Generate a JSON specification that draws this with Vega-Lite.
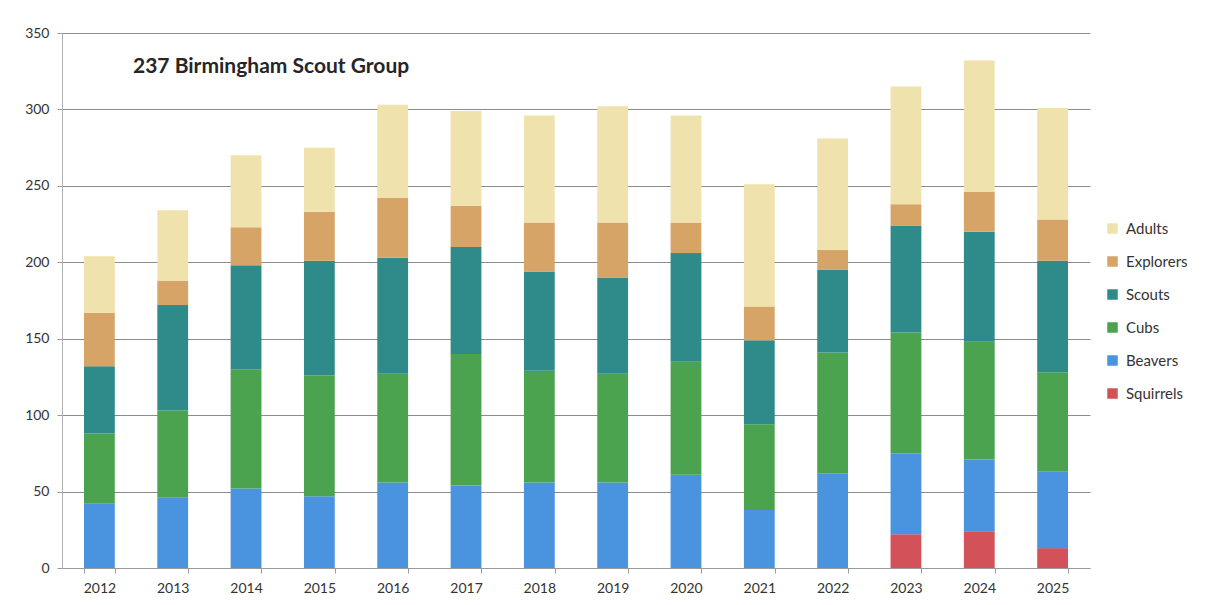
{
  "$schema": "https://vega.github.io/schema/vega-lite/v6.json",
  "width": 1028,
  "height": 535,
  "autosize": "none",
  "padding": {"left": 62, "top": 33, "right": 125, "bottom": 37},
  "background": "white",
  "title": {
    "text": "237 Birmingham Scout Group",
    "anchor": "start",
    "frame": "group",
    "orient": "top",
    "offset": -51,
    "dx": 71,
    "font": "Lato",
    "fontSize": 21,
    "fontWeight": "bold",
    "color": "#262626"
  },
  "data": {
    "values": [
      {"year": "2012", "group": "Beavers", "count": 42},
      {"year": "2012", "group": "Cubs", "count": 46},
      {"year": "2012", "group": "Scouts", "count": 44},
      {"year": "2012", "group": "Explorers", "count": 35},
      {"year": "2012", "group": "Adults", "count": 37},
      {"year": "2013", "group": "Beavers", "count": 46},
      {"year": "2013", "group": "Cubs", "count": 57},
      {"year": "2013", "group": "Scouts", "count": 69},
      {"year": "2013", "group": "Explorers", "count": 16},
      {"year": "2013", "group": "Adults", "count": 46},
      {"year": "2014", "group": "Beavers", "count": 52},
      {"year": "2014", "group": "Cubs", "count": 78},
      {"year": "2014", "group": "Scouts", "count": 68},
      {"year": "2014", "group": "Explorers", "count": 25},
      {"year": "2014", "group": "Adults", "count": 47},
      {"year": "2015", "group": "Beavers", "count": 47},
      {"year": "2015", "group": "Cubs", "count": 79},
      {"year": "2015", "group": "Scouts", "count": 75},
      {"year": "2015", "group": "Explorers", "count": 32},
      {"year": "2015", "group": "Adults", "count": 42},
      {"year": "2016", "group": "Beavers", "count": 56},
      {"year": "2016", "group": "Cubs", "count": 71},
      {"year": "2016", "group": "Scouts", "count": 76},
      {"year": "2016", "group": "Explorers", "count": 39},
      {"year": "2016", "group": "Adults", "count": 61},
      {"year": "2017", "group": "Beavers", "count": 54},
      {"year": "2017", "group": "Cubs", "count": 86},
      {"year": "2017", "group": "Scouts", "count": 70},
      {"year": "2017", "group": "Explorers", "count": 27},
      {"year": "2017", "group": "Adults", "count": 62},
      {"year": "2018", "group": "Beavers", "count": 56},
      {"year": "2018", "group": "Cubs", "count": 73},
      {"year": "2018", "group": "Scouts", "count": 65},
      {"year": "2018", "group": "Explorers", "count": 32},
      {"year": "2018", "group": "Adults", "count": 70},
      {"year": "2019", "group": "Beavers", "count": 56},
      {"year": "2019", "group": "Cubs", "count": 71},
      {"year": "2019", "group": "Scouts", "count": 63},
      {"year": "2019", "group": "Explorers", "count": 36},
      {"year": "2019", "group": "Adults", "count": 76},
      {"year": "2020", "group": "Beavers", "count": 61},
      {"year": "2020", "group": "Cubs", "count": 74},
      {"year": "2020", "group": "Scouts", "count": 71},
      {"year": "2020", "group": "Explorers", "count": 20},
      {"year": "2020", "group": "Adults", "count": 70},
      {"year": "2021", "group": "Beavers", "count": 38},
      {"year": "2021", "group": "Cubs", "count": 56},
      {"year": "2021", "group": "Scouts", "count": 55},
      {"year": "2021", "group": "Explorers", "count": 22},
      {"year": "2021", "group": "Adults", "count": 80},
      {"year": "2022", "group": "Beavers", "count": 62},
      {"year": "2022", "group": "Cubs", "count": 79},
      {"year": "2022", "group": "Scouts", "count": 54},
      {"year": "2022", "group": "Explorers", "count": 13},
      {"year": "2022", "group": "Adults", "count": 73},
      {"year": "2023", "group": "Squirrels", "count": 22},
      {"year": "2023", "group": "Beavers", "count": 53},
      {"year": "2023", "group": "Cubs", "count": 79},
      {"year": "2023", "group": "Scouts", "count": 70},
      {"year": "2023", "group": "Explorers", "count": 14},
      {"year": "2023", "group": "Adults", "count": 77},
      {"year": "2024", "group": "Squirrels", "count": 24},
      {"year": "2024", "group": "Beavers", "count": 47},
      {"year": "2024", "group": "Cubs", "count": 77},
      {"year": "2024", "group": "Scouts", "count": 72},
      {"year": "2024", "group": "Explorers", "count": 26},
      {"year": "2024", "group": "Adults", "count": 86},
      {"year": "2025", "group": "Squirrels", "count": 13},
      {"year": "2025", "group": "Beavers", "count": 50},
      {"year": "2025", "group": "Cubs", "count": 65},
      {"year": "2025", "group": "Scouts", "count": 73},
      {"year": "2025", "group": "Explorers", "count": 27},
      {"year": "2025", "group": "Adults", "count": 73}
    ]
  },
  "transform": [
    {"calculate": "indexof(['Squirrels','Beavers','Cubs','Scouts','Explorers','Adults'], datum.group)", "as": "stackOrder"}
  ],
  "mark": {"type": "bar"},
  "encoding": {
    "x": {
      "field": "year",
      "type": "nominal",
      "title": null,
      "scale": {"paddingInner": 0.58, "paddingOuter": 0.3},
      "axis": {
        "labelAngle": 0,
        "labelFont": "Lato",
        "labelFontSize": 14,
        "labelColor": "#333333",
        "labelPadding": 8,
        "tickBand": "extent",
        "tickColor": "#9a9a9a",
        "tickSize": 5,
        "domainColor": "#9a9a9a",
        "grid": false
      }
    },
    "y": {
      "field": "count",
      "type": "quantitative",
      "stack": "zero",
      "title": null,
      "scale": {"domain": [0, 350], "nice": false},
      "axis": {
        "values": [0, 50, 100, 150, 200, 250, 300, 350],
        "labelFont": "Lato",
        "labelFontSize": 14,
        "labelColor": "#333333",
        "labelPadding": 8,
        "tickColor": "#9a9a9a",
        "tickSize": 5,
        "domainColor": "#b0b0b0",
        "gridColor": "#8c8c8c",
        "gridWidth": 1
      }
    },
    "color": {
      "field": "group",
      "type": "nominal",
      "scale": {
        "domain": ["Adults", "Explorers", "Scouts", "Cubs", "Beavers", "Squirrels"],
        "range": ["#efe2ad", "#d6a466", "#2f8a8a", "#4ba34f", "#4a93de", "#d3525a"]
      },
      "legend": {
        "title": null,
        "orient": "none",
        "legendX": 1043,
        "legendY": 188,
        "symbolType": "square",
        "symbolSize": 110,
        "symbolStrokeWidth": 0,
        "labelFont": "Lato",
        "labelFontSize": 15,
        "labelColor": "#333333",
        "rowPadding": 17,
        "labelOffset": 6
      }
    },
    "order": {"field": "stackOrder", "type": "quantitative", "sort": "ascending"}
  },
  "config": {
    "view": {"stroke": null}
  }
}
